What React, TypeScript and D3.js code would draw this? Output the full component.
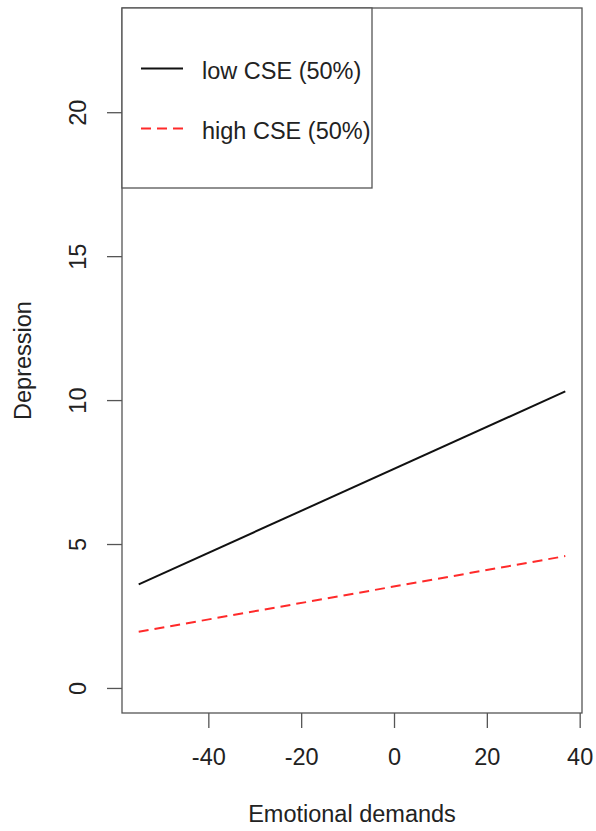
import React, { useEffect, useRef } from 'react';
import * as d3 from 'd3';

const emotionalDemands = [-55, 36.9];
const lowCSE = [3.6, 10.3];
const highCSE = [1.95, 4.58];
const xTicks = [-40, -20, 0, 20, 40];
const yTicks = [0, 5, 10, 15, 20];
const seriesNames = ['low CSE (50%)', 'high CSE (50%)'];

const App = () => {
    const chartRef = useRef<SVGSVGElement>(null);

    useEffect(() => {
        const svg = d3.select(chartRef.current);
        svg.selectAll("*").remove();

        const left = 122, right = 582, top = 8, bottom = 713;
        const font = "'Liberation Sans', Arial, sans-serif";
        const fontSize = 23.5;
        const axisColor = "#555";

        const x = d3.scaleLinear().domain([-58.6, 40.5]).range([left, right]);
        const y = d3.scaleLinear().domain([-0.87, 23.62]).range([bottom, top]);

        // plot box
        svg.append("rect")
            .attr("x", left).attr("y", top)
            .attr("width", right - left).attr("height", bottom - top)
            .attr("fill", "none").attr("stroke", axisColor).attr("stroke-width", 1.3);

        // X Axis
        const gx = svg.append("g")
            .attr("transform", `translate(0,${bottom})`)
            .call(d3.axisBottom(x).tickValues(xTicks).tickFormat(d => String(d))
                .tickSize(15).tickPadding(20).tickSizeOuter(0));
        gx.select(".domain").remove();
        gx.selectAll("line").attr("stroke", axisColor).attr("stroke-width", 1.3);
        gx.selectAll("text")
            .attr("font-family", font).attr("font-size", fontSize).attr("fill", "#222");

        // Y Axis
        const gy = svg.append("g")
            .attr("transform", `translate(${left},0)`)
            .call(d3.axisLeft(y).tickValues(yTicks).tickFormat(d => String(d))
                .tickSize(15).tickSizeOuter(0));
        gy.select(".domain").remove();
        gy.selectAll("line").attr("stroke", axisColor).attr("stroke-width", 1.3);
        gy.selectAll("text")
            .attr("font-family", font).attr("font-size", fontSize).attr("fill", "#222")
            .attr("x", null).attr("dy", null)
            .attr("text-anchor", "middle")
            .attr("transform", "translate(-36,0) rotate(-90)");

        // axis titles
        svg.append("text")
            .attr("x", (left + right) / 2).attr("y", 822)
            .attr("text-anchor", "middle")
            .attr("font-family", font).attr("font-size", fontSize).attr("fill", "#222")
            .text("Emotional demands");
        svg.append("text")
            .attr("transform", `translate(31,${(top + bottom) / 2}) rotate(-90)`)
            .attr("text-anchor", "middle")
            .attr("font-family", font).attr("font-size", fontSize).attr("fill", "#222")
            .text("Depression");

        // Lines
        const line = d3.line<number>()
            .x((_, i) => x(emotionalDemands[i]))
            .y(d => y(d));

        svg.append("path")
            .datum(lowCSE)
            .attr("d", line)
            .attr("fill", "none").attr("stroke", "#111").attr("stroke-width", 2);

        svg.append("path")
            .datum(highCSE)
            .attr("d", line)
            .attr("fill", "none").attr("stroke", "#ff2a2a").attr("stroke-width", 2)
            .attr("stroke-dasharray", "10,6");

        // Legend
        const legend = svg.append("g");
        legend.append("rect")
            .attr("x", left).attr("y", top)
            .attr("width", 372 - left).attr("height", 188 - top)
            .attr("fill", "white").attr("stroke", axisColor).attr("stroke-width", 1.3);

        const styles = [
            { color: "#111", dash: null },
            { color: "#ff2a2a", dash: "10,6" }
        ];
        seriesNames.forEach((name, i) => {
            const ly = 68.5 + i * 60;
            legend.append("line")
                .attr("x1", 141).attr("x2", 183)
                .attr("y1", ly).attr("y2", ly)
                .attr("stroke", styles[i].color).attr("stroke-width", 2)
                .attr("stroke-dasharray", styles[i].dash);
            legend.append("text")
                .attr("x", 202).attr("y", ly + 10.5)
                .attr("font-family", font).attr("font-size", fontSize).attr("fill", "#222")
                .text(name);
        });
    }, []);

    return (
        <svg ref={chartRef} width={596} height={831}
            style={{ position: 'absolute', left: 0, top: 0, background: 'white' }}></svg>
    );
};

export default App;
